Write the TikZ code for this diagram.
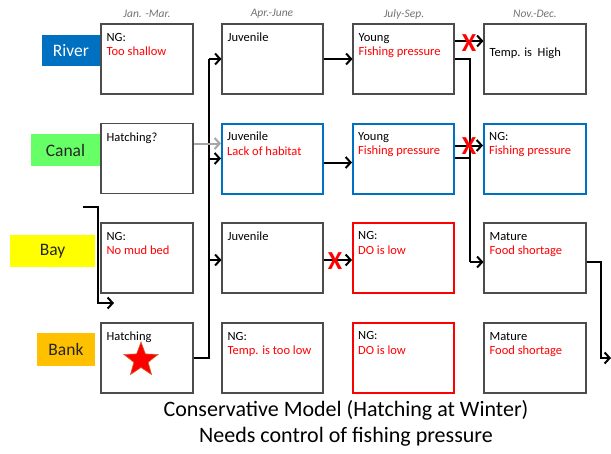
\documentclass[tikz,border=0pt]{standalone}
\usepackage{fontspec}
\setmainfont{Carlito}
\usetikzlibrary{arrows.meta,shapes.geometric}
\definecolor{rblue}{HTML}{0070C0}
\definecolor{rgreen}{HTML}{66FF66}
\definecolor{ryellow}{HTML}{FFFF00}
\definecolor{rorange}{HTML}{FFC000}
\definecolor{rred}{HTML}{FF0000}
\begin{document}
\begin{tikzpicture}[x=1pt,y=-1pt,
  box/.style={draw=black!70, line width=1.1pt, minimum height=70pt, inner sep=0pt, fill=white},
  bluebox/.style={box, draw=rblue, line width=2pt},
  redbox/.style={box, draw=rred, line width=2pt},
  txt/.style={anchor=north west, inner sep=0pt, align=left, font=\fontsize{12.5}{14.5}\selectfont},
  head/.style={text=black!55, font=\fontsize{11.5}{12}\selectfont\itshape},
  lab/.style={inner sep=0pt, font=\fontsize{17.5}{19}\selectfont},
  arr/.style={line width=2pt, -{Straight Barb[length=5pt,width=11pt,line width=2pt]}},
  ln/.style={line width=2pt},
  grayarr/.style={arr, draw=black!35},
  cross/.style={text=rred, inner sep=0pt, font=\fontsize{26}{26}\selectfont\bfseries},
  ttl/.style={font=\fontsize{22}{24}\selectfont}
]
\useasboundingbox (0,0) rectangle (611,453);

% headers
\node[head] (h1) at (147,14) {Jan. -Mar.};
\node[head] (h2) at (272,14) {Apr.-June};
\node[head] (h3) at (404,14) {July-Sep.};
\node[head] (h4) at (535,14) {Nov.-Dec.};

% row labels
\node[lab, fill=rblue, text=white, minimum width=58pt, minimum height=31pt] (river) at (71,50.5) {River};
\node[lab, fill=rgreen, text=black!85, minimum width=69pt, minimum height=32pt] (canal) at (65.5,150) {Canal};
\node[lab, fill=ryellow, text=black!85, minimum width=85pt, minimum height=32pt] (bay) at (52.5,251) {Bay};
\node[lab, fill=rorange, text=black!85, minimum width=58pt, minimum height=33pt] (bank) at (66,349.5) {Bank};

% boxes
\node[box, minimum width=92pt] (c1r1) at (147,59) {};
\node[box, minimum width=92pt] (c1r2) at (147,158.5) {};
\node[box, minimum width=92pt] (c1r3) at (147,258) {};
\node[box, minimum width=92pt] (c1r4) at (147,358) {};

\node[box, minimum width=101pt] (c2r1) at (272.5,59) {};
\node[bluebox, minimum width=101pt] (c2r2) at (272.5,158.5) {};
\node[box, minimum width=101pt] (c2r3) at (272.5,258) {};
\node[box, minimum width=101pt] (c2r4) at (272.5,358) {};

\node[box, minimum width=101pt] (c3r1) at (403.5,59) {};
\node[bluebox, minimum width=101pt] (c3r2) at (403.5,158.5) {};
\node[redbox, minimum width=101pt] (c3r3) at (403.5,258) {};
\node[redbox, minimum width=101pt] (c3r4) at (403.5,358) {};

\node[box, minimum width=102pt] (c4r1) at (535,59) {};
\node[bluebox, minimum width=102pt] (c4r2) at (535,158.5) {};
\node[box, minimum width=102pt] (c4r3) at (535,258) {};
\node[box, minimum width=102pt] (c4r4) at (535,358) {};

% texts
\tikzset{tpos/.style={xshift=6pt,yshift=-9.5pt}}
\node[txt] (t11) at ([tpos]c1r1.north west) {NG:\\\textcolor{rred}{Too shallow}};
\node[txt] (t12) at ([tpos]c1r2.north west) {Hatching?};
\node[txt] (t13) at ([tpos]c1r3.north west) {NG:\\\textcolor{rred}{No mud bed}};
\node[txt] (t14) at ([tpos]c1r4.north west) {Hatching};

\node[txt] (t21) at ([tpos]c2r1.north west) {Juvenile};
\node[txt] (t22) at ([tpos]c2r2.north west) {Juvenile\\\textcolor{rred}{Lack of habitat}};
\node[txt] (t23) at ([tpos]c2r3.north west) {Juvenile};
\node[txt] (t24) at ([tpos]c2r4.north west) {NG:\\\textcolor{rred}{Temp. is too low}};

\node[txt] (t31) at ([tpos]c3r1.north west) {Young\\\textcolor{rred}{Fishing pressure}};
\node[txt] (t32) at ([tpos]c3r2.north west) {Young\\\textcolor{rred}{Fishing pressure}};
\node[txt] (t33) at ([tpos]c3r3.north west) {NG:\\\textcolor{rred}{DO is low}};
\node[txt] (t34) at ([tpos]c3r4.north west) {NG:\\\textcolor{rred}{DO is low}};

\node[txt] (t41) at ([xshift=6pt,yshift=-24pt]c4r1.north west) {Temp. is\ \ High};
\node[txt] (t42) at ([tpos]c4r2.north west) {NG:\\\textcolor{rred}{Fishing pressure}};
\node[txt] (t43) at ([tpos]c4r3.north west) {Mature\\\textcolor{rred}{Food shortage}};
\node[txt] (t44) at ([tpos]c4r4.north west) {Mature\\\textcolor{rred}{Food shortage}};

% star
\node[star, star points=5, star point ratio=2.4, fill=rred, draw=brown!80!red, line width=0.6pt, minimum size=36pt, inner sep=0pt] (starnode) at (141,360) {};

% connectors
\coordinate (vx) at (209,0);
\draw[ln] (c1r4.east) -| (vx |- c2r1.west);
\draw[arr] (vx |- c2r1.west) -- (c2r1.west);
\draw[arr] (vx |- c2r2.west) -- (c2r2.west);
\draw[arr] ([yshift=-2pt]vx |- c2r3.west) -- ([yshift=-2pt]c2r3.west);

\draw[grayarr] ([yshift=15pt]c1r2.east) -- ([yshift=15pt]c2r2.west);

\draw[arr] (c2r1.east) -- (c3r1.west);
\draw[arr] ([yshift=-4pt]c2r2.east) -- ([yshift=-4pt]c3r2.west);
\draw[arr] ([yshift=-2pt]c2r3.east) -- ([yshift=-2pt]c3r3.west);

\draw[arr] ([yshift=18pt]c3r1.east) -- ([yshift=18pt]c4r1.west);
\draw[arr] ([yshift=13pt]c3r2.east) -- ([yshift=13pt]c4r2.west);

\coordinate (vy) at (470,0);
\draw[ln] (c3r1.east) -| (vy |- c4r3.west);
\draw[arr] ([yshift=-4pt]vy |- c4r3.west) -- ([yshift=-4pt]c4r3.west);
\draw[ln] ([yshift=1pt]c3r2.east) -- ([yshift=1pt]vy |- c3r2.east);
\draw[ln] (vy |- c3r1.east) -- ([yshift=-4pt]vy |- c4r3.west);

% bay arrow
\coordinate (bayin) at (83,207);
\coordinate (bayout) at (114,303);
\draw[arr] (bayin) -| (98,303) -- (bayout);

% out arrow
\coordinate (outend) at (611,358);
\draw[arr] ([yshift=-4pt]c4r3.east) -| (601,358) -- (outend);

% crosses
\node[cross] (x1) at (469,43) {X};
\node[cross] (x2) at (469,146) {X};
\node[cross] (x3) at (335,261) {X};

% title
\node[ttl] (title1) at (346,410) {Conservative Model (Hatching at Winter)};
\node[ttl] (title2) at (346,437) {Needs control of fishing pressure};
\end{tikzpicture}
\end{document}
